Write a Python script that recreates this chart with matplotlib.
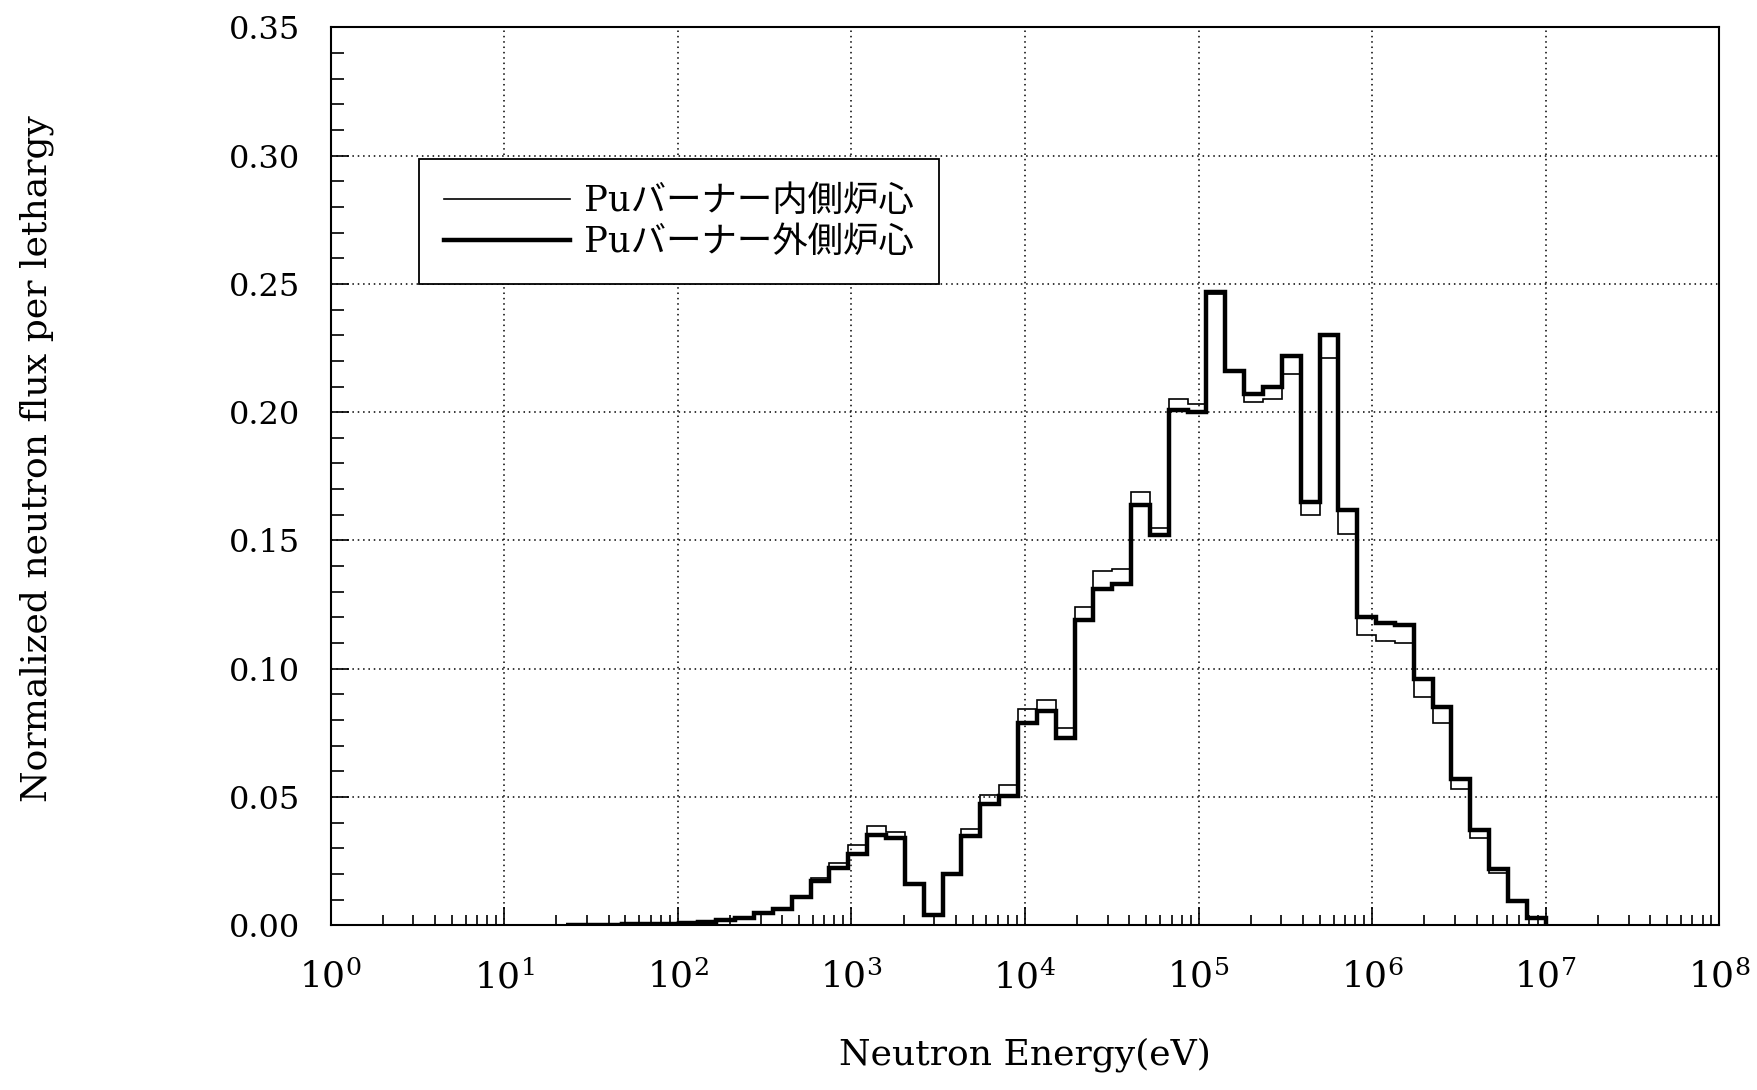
import matplotlib
matplotlib.use('Agg')
import matplotlib.pyplot as plt
from matplotlib.ticker import LogLocator, MultipleLocator, FormatStrFormatter, NullFormatter

# group boundaries (eV), 70-group lethargy 0.25 structure, only the groups with flux
edges = [2.2603e1, 2.9023e1, 3.7267e1, 4.7851e1, 6.1442e1, 7.8893e1, 1.0130e2,
         1.3007e2, 1.6702e2, 2.1445e2, 2.7536e2, 3.5357e2, 4.5400e2, 5.8295e2,
         7.4852e2, 9.6112e2, 1.2341e3, 1.5846e3, 2.0347e3, 2.6126e3, 3.3546e3,
         4.3074e3, 5.5308e3, 7.1017e3, 9.1188e3, 1.1709e4, 1.5034e4, 1.9305e4,
         2.4788e4, 3.1828e4, 4.0868e4, 5.2475e4, 6.7379e4, 8.6517e4, 1.1109e5,
         1.4264e5, 1.8316e5, 2.3518e5, 3.0197e5, 3.8774e5, 4.9787e5, 6.3928e5,
         8.2085e5, 1.0540e6, 1.3534e6, 1.7377e6, 2.2313e6, 2.8650e6, 3.6788e6,
         4.7237e6, 6.0653e6, 7.7880e6, 1.0000e7]

# inner core (thin line)
inner = [0.0001, 0.0002, 0.0003, 0.0004, 0.0005, 0.0006, 0.0008, 0.0012,
         0.0022, 0.003, 0.0048, 0.0066, 0.0112, 0.0183, 0.0245, 0.0314,
         0.0389, 0.0363, 0.016, 0.004, 0.020, 0.0375, 0.051, 0.0547,
         0.0845, 0.088, 0.077, 0.124, 0.138, 0.139, 0.169, 0.155,
         0.205, 0.203, 0.246, 0.216, 0.204, 0.205, 0.215, 0.160,
         0.221, 0.1526, 0.113, 0.111, 0.110, 0.089, 0.079, 0.053,
         0.034, 0.0206, 0.009, 0.003]

# outer core (thick line)
outer = [0.0001, 0.0002, 0.0003, 0.0004, 0.0005, 0.0006, 0.0008, 0.0012,
         0.0022, 0.003, 0.0047, 0.0064, 0.011, 0.0172, 0.0225, 0.0278,
         0.0353, 0.034, 0.016, 0.004, 0.020, 0.035, 0.0475, 0.0505,
         0.079, 0.0835, 0.073, 0.119, 0.131, 0.133, 0.164, 0.152,
         0.201, 0.200, 0.247, 0.216, 0.207, 0.210, 0.222, 0.165,
         0.230, 0.162, 0.120, 0.118, 0.117, 0.096, 0.085, 0.057,
         0.037, 0.022, 0.0095, 0.003]

labels = ['Puバーナー内側炉心', 'Puバーナー外側炉心']

plt.rcParams['font.family'] = ['DejaVu Serif', 'Noto Sans CJK JP']
plt.rcParams['mathtext.fontset'] = 'dejavuserif'


def main():
    fig = plt.figure(figsize=(17.58, 10.9), dpi=100)
    ax = fig.add_axes([0.188, 0.151, 0.790, 0.824])

    ax.stairs(outer, edges, color='black', linewidth=3.2, label=labels[1], zorder=3)
    ax.stairs(inner, edges, color='black', linewidth=1.2, label=labels[0], zorder=4)

    ax.set_xscale('log')
    ax.set_xlim(1, 1e8)
    ax.set_ylim(0, 0.35)

    ax.xaxis.set_major_locator(LogLocator(base=10, numticks=20))
    ax.xaxis.set_minor_locator(LogLocator(base=10, subs=range(2, 10), numticks=20))
    ax.xaxis.set_minor_formatter(NullFormatter())
    ax.yaxis.set_major_locator(MultipleLocator(0.05))
    ax.yaxis.set_minor_locator(MultipleLocator(0.01))
    ax.yaxis.set_major_formatter(FormatStrFormatter('%.2f'))

    ax.tick_params(which='both', direction='in', top=False, right=False, color='black')
    ax.tick_params(axis='x', which='major', length=13, width=1.2, labelsize=26, pad=25)
    ax.tick_params(axis='x', which='minor', length=7, width=1.2)
    ax.tick_params(axis='y', which='major', length=13, width=1.2, labelsize=23, pad=22)
    ax.tick_params(axis='y', which='minor', length=9, width=1.2)

    ax.grid(True, which='major', color='black', linestyle=(0, (1, 2.5)), linewidth=1.1)
    for s in ax.spines.values():
        s.set_linewidth(1.5)

    ax.set_xlabel('Neutron Energy(eV)', fontsize=26)
    ax.set_ylabel('Normalized neutron flux per lethargy', fontsize=26)
    ax.xaxis.set_label_coords(0.50, -0.125)
    ax.yaxis.set_label_coords(-0.199, 0.52)

    h, l = ax.get_legend_handles_labels()
    leg = ax.legend(h[::-1], l[::-1], loc='upper left', bbox_to_anchor=(0.064, 0.853),
                    fontsize=25.5, frameon=True, fancybox=False, framealpha=1,
                    edgecolor='black', handlelength=3.55, handletextpad=0.4,
                    labelspacing=0.2, borderpad=0.7, borderaxespad=0)
    leg.get_frame().set_linewidth(1.3)
    leg.set_zorder(5)

    fig.savefig('out.png', dpi=100, facecolor='white')
    plt.close(fig)


if __name__ == '__main__':
    main()
